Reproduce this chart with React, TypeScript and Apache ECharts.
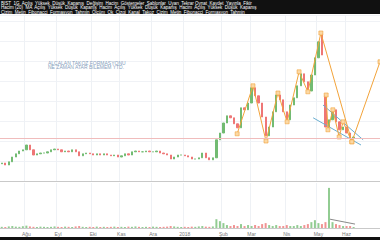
import React, { useEffect, useRef } from "react";
import * as echarts from "echarts";

// Daily closes (TL)
const closes = [
  2.45, 2.4, 2.48, 2.6, 2.68, 2.75, 2.78, 2.9, 2.78, 2.65,
  2.68, 2.7, 2.7, 2.73, 2.78, 2.8, 2.78, 2.73, 2.75, 2.73,
  2.78, 2.73, 2.63, 2.68, 2.7, 2.68, 2.65, 2.68, 2.65, 2.68,
  2.65, 2.63, 2.65, 2.6, 2.63, 2.68, 2.65, 2.73, 2.75, 2.73,
  2.73, 2.75, 2.73, 2.73, 2.75, 2.7, 2.68, 2.65, 2.55, 2.6,
  2.65, 2.65, 2.63, 2.6, 2.55, 2.55, 2.58, 2.7, 2.58, 2.53,
  2.58, 3.03, 3.2, 3.45, 3.63, 3.58, 3.43, 3.33, 3.83, 3.78,
  3.95, 4.33, 4.13, 3.95, 3.6, 3.13, 3.35, 3.73, 4.15, 4.03,
  3.73, 3.53, 3.9, 4.08, 4.38, 4.68, 4.48, 4.25, 4.65, 5.08,
  5.48, 5.15, 3.35, 3.53, 3.78, 3.48, 3.28, 3.35, 3.2, 3.08,
  3.1,
];
const firstOpen = 2.43;
// Opens that gap away from the previous close: [bar index, open]
const gapOpens = [[91, 5.68], [92, 4.15]];

// Volume (millions)
const volumes = [
  0.06, 0.05, 0.08, 0.1, 0.07, 0.06, 0.09, 0.12, 0.08, 0.06,
  0.05, 0.07, 0.06, 0.05, 0.06, 0.08, 0.06, 0.05, 0.07, 0.06,
  0.05, 0.08, 0.1, 0.06, 0.05, 0.06, 0.05, 0.07, 0.05, 0.06,
  0.05, 0.06, 0.07, 0.05, 0.06, 0.05, 0.07, 0.06, 0.08, 0.06,
  0.05, 0.06, 0.05, 0.07, 0.06, 0.05, 0.06, 0.07, 0.1, 0.08,
  0.06, 0.05, 0.06, 0.05, 0.07, 0.06, 0.08, 0.1, 0.07, 0.06,
  0.08, 0.45, 0.35, 0.25, 0.15, 0.1, 0.15, 0.1, 0.2, 0.1,
  0.15, 0.1, 0.15, 0.1, 0.2, 0.25, 0.15, 0.1, 0.15, 0.1,
  0.1, 0.15, 0.1, 0.1, 0.15, 0.1, 0.15, 0.2, 0.3, 0.4,
  0.25, 0.2, 0.3, 2.05, 0.3, 0.2, 0.15, 0.1, 0.1, 0.1,
  0.05,
];

const categoryCount = 108;
const monthIdx = [7, 16, 26, 34, 43, 52, 63, 71, 81, 90, 98];
const monthNames = ["Ağu", "Eyl", "Eki", "Kas", "Ara", "2018", "Şub", "Mar", "Nis", "May", "Haz"];

// Drawings (bar index, price)
const zigzagMain = [
  [66.9, 3.18], [71.4, 4.38], [75.1, 3.0], [78.5, 4.2], [81.1, 3.48],
  [84.5, 4.73], [87.0, 4.23], [90.7, 5.7], [99.5, 2.98], [107.5, 4.98],
];
const zigzagSmall = [[92.2, 4.15], [92.7, 3.28], [94.1, 3.78], [95.9, 3.1], [97.0, 3.48], [99.5, 2.98]];
const wedgeUpper = [[91.3, 3.9], [102.7, 3.03]];
const wedgeLower = [[88.5, 3.58], [102.1, 2.9]];
const supportLevel = 3.075;
const volTrend = [[93.3, 0.45], [100.4, 0.2]];

const noteLines = ["ALÇALAN TAKOZ FORMASYONU", "NE ZAMAN ATAR BİLEMEM YTD."];
const headerLines = [
  "BIST  1G  Açılış  Yüksek  Düşük  Kapanış  Değişim  Hacim  Göstergeler  Şablonlar  Uyarı  Tekrar Oynat  Kaydet  Yayınla  Fikir",
  "Hacim (20)  MA  Açılış  Yüksek  Düşük  Kapanış  Hacim  Açılış  Yüksek  Düşük  Kapanış  Hacim  Açılış  Yüksek  Düşük  Kapanış",
  "Çizim  Metin  Fibonacci  Formasyon  Tahmin  Ölçüm  Ok  Çizgi  Kanal  Takoz  Çizim  Metin  Fibonacci  Formasyon  Tahmin",
];

const UP = "#72bb72";
const DOWN = "#ee7676";

export default function App() {
  const ref = useRef<HTMLDivElement>(null);
  useEffect(() => {
    if (!ref.current) return;
    const chart = echarts.init(ref.current, undefined, { renderer: "svg" });
    const cats = Array.from({ length: categoryCount }, (_, i) => String(i));
    const openOf = (i: number) => {
      const g = gapOpens.find((p) => p[0] === i);
      if (g) return g[1];
      return i === 0 ? firstOpen : closes[i - 1];
    };
    const candles = closes.map((c, i) => {
      const o = openOf(i);
      return [o, c, Math.min(o, c), Math.max(o, c)];
    });
    const vols = volumes.map((v, i) => {
      const up = closes[i] >= openOf(i);
      return { value: v, itemStyle: { color: up ? "rgba(109,187,109,0.75)" : "rgba(236,111,111,0.75)" } };
    });
    const showMonth = (i: number) => monthIdx.includes(i);
    const graphic: any[] = [
      { type: "rect", left: 0, top: 0, shape: { width: 380, height: 14 }, style: { fill: "#111" }, z: 100 },
      ...headerLines.map((t, k) => ({
        type: "text", left: 1, top: 0.5 + k * 4.5, z: 101,
        style: { text: t, fill: "#fff", fontSize: 4.5, fontFamily: "Liberation Sans" },
      })),
      ...noteLines.map((t, k) => ({
        type: "text", left: 48, top: 60 + k * 4.8, z: 50,
        style: { text: t, fill: "#86a0bc", fontSize: 5, fontFamily: "Liberation Sans" },
      })),
      { type: "line", shape: { x1: 0, y1: 181.5, x2: 380, y2: 181.5 }, style: { stroke: "#c9c9c9", lineWidth: 1 }, z: 40 },
      { type: "rect", left: 0, top: 237, shape: { width: 380, height: 3 }, style: { fill: "#111" }, z: 100 },
    ];
    chart.setOption({
      animation: false,
      backgroundColor: "#ffffff",
      grid: [
        { left: 0, right: 0, top: 15, height: 166 },
        { left: 0, right: 0, top: 183, height: 45 },
      ],
      xAxis: [
        {
          type: "category", gridIndex: 0, data: cats,
          axisLine: { show: false }, axisTick: { show: false }, axisLabel: { show: false },
          splitLine: { show: true, interval: (i: number) => showMonth(i), lineStyle: { color: "#eef1f5", width: 1 } },
        },
        { type: "value", gridIndex: 0, min: -0.5, max: 107.5, show: false },
        {
          type: "category", gridIndex: 1, data: cats,
          axisLine: { show: true, lineStyle: { color: "#c9c9c9", width: 1 } },
          axisTick: { show: false },
          axisLabel: {
            interval: (i: number) => showMonth(i),
            formatter: (_v: string, i: number) => monthNames[monthIdx.indexOf(i)] ?? "",
            fontSize: 5, color: "#7a7a7a", margin: 3, fontFamily: "Liberation Sans",
          },
          splitLine: { show: true, interval: (i: number) => showMonth(i), lineStyle: { color: "#eef1f5", width: 1 } },
        },
        { type: "value", gridIndex: 1, min: -0.5, max: 107.5, show: false },
      ],
      yAxis: [
        {
          type: "value", gridIndex: 0, min: 2, max: 6.15, interval: 0.5,
          axisLabel: { show: false }, axisLine: { show: false }, axisTick: { show: false },
          splitLine: { show: true, lineStyle: { color: "#f0f2f6", width: 1 } },
        },
        {
          type: "value", gridIndex: 1, min: 0, max: 2.3,
          axisLabel: { show: false }, axisLine: { show: false }, axisTick: { show: false },
          splitLine: { show: false },
        },
      ],
      series: [
        {
          type: "candlestick", xAxisIndex: 0, yAxisIndex: 0, data: candles, barMaxWidth: 2,
          itemStyle: { color: UP, color0: DOWN, borderColor: UP, borderColor0: DOWN, borderWidth: 1 },
          markLine: {
            silent: true, symbol: "none", label: { show: false },
            lineStyle: { color: "#f0bcbc", width: 1, type: "solid" },
            data: [{ yAxis: supportLevel }],
          },
        },
        {
          type: "line", xAxisIndex: 1, yAxisIndex: 0, data: wedgeUpper, symbol: "none",
          lineStyle: { color: "#6aaed0", width: 1 },
        },
        {
          type: "line", xAxisIndex: 1, yAxisIndex: 0, data: wedgeLower, symbol: "none",
          lineStyle: { color: "#6aaed0", width: 1 },
        },
        {
          type: "line", xAxisIndex: 1, yAxisIndex: 0, data: zigzagMain, symbol: "rect", symbolSize: 4,
          lineStyle: { color: "#f2a33a", width: 1 },
          itemStyle: { color: "#fbd8a4", borderColor: "#f2a33a", borderWidth: 0.6 },
        },
        {
          type: "line", xAxisIndex: 1, yAxisIndex: 0, data: zigzagSmall, symbol: "rect", symbolSize: 4,
          lineStyle: { color: "#f2a33a", width: 1 },
          itemStyle: { color: "#fbd8a4", borderColor: "#f2a33a", borderWidth: 0.6 },
        },
        { type: "bar", xAxisIndex: 2, yAxisIndex: 1, data: vols, barMaxWidth: 2 },
        {
          type: "line", xAxisIndex: 3, yAxisIndex: 1, data: volTrend, symbol: "none",
          lineStyle: { color: "#8a8a8a", width: 1 },
        },
      ],
      graphic,
    });
    return () => chart.dispose();
  }, []);
  return <div ref={ref} style={{ position: "fixed", left: 0, top: 0, width: 380, height: 240 }} />;
}
